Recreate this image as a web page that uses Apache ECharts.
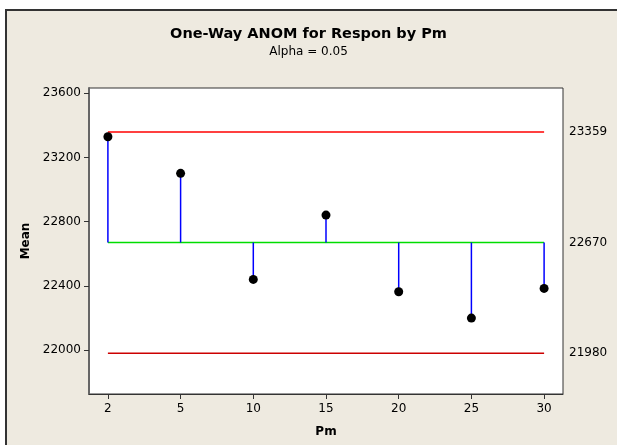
<!DOCTYPE html>
<html>
<head>
<meta charset="utf-8">
<script src="https://cdn.jsdelivr.net/npm/echarts@6/dist/echarts.min.js"></script>
<style>html,body{margin:0;padding:0;background:#fff}#c{width:617px;height:445px}</style>
</head>
<body>
<div id="c"></div>
<script>
var pmLabels = ['2', '5', '10', '15', '20', '25', '30'];
var means = [23329, 23101, 22440, 22841, 22363, 22199, 22384];
var centerLine = 22670;
var upperLimit = 23359;
var lowerLimit = 21980;
var leftTicks = [22000, 22400, 22800, 23200, 23600];
var rightTicks = [lowerLimit, centerLine, upperLimit];

var idx = pmLabels.map(function (_, i) { return i; });
var pts = means.map(function (m, i) { return [i, m]; });
var last = pmLabels.length - 1;
var FONT = 'DejaVu Sans';
function plain(v) { return String(Math.round(v)); }

var chart = echarts.init(document.getElementById('c'), null, {renderer: 'canvas'});
chart.setOption({
  backgroundColor: '#ffffff',
  animation: false,
  graphic: [{
    type: 'rect', z: -100, silent: true,
    shape: {x: 6, y: 10, width: 700, height: 500},
    style: {fill: '#EEEAE0', stroke: '#333333', lineWidth: 2}
  }],
  title: {
    text: 'One-Way ANOM for Respon by Pm',
    subtext: 'Alpha = 0.05',
    left: 'center', top: 22, itemGap: 4,
    textStyle: {fontFamily: FONT, fontSize: 14.5, fontWeight: 'bold', color: '#000'},
    subtextStyle: {fontFamily: FONT, fontSize: 12, color: '#000'}
  },
  grid: {left: 89, top: 88, right: 54, bottom: 51, show: true, backgroundColor: '#fff', borderColor: '#333', borderWidth: 1},
  xAxis: {
    type: 'value', min: -0.26, max: last + 0.26,
    name: 'Pm', nameLocation: 'middle', nameGap: 32,
    nameTextStyle: {fontFamily: FONT, fontSize: 12, fontWeight: 'bold', color: '#000'},
    axisLine: {show: true, onZero: false, lineStyle: {color: '#333'}},
    splitLine: {show: false},
    axisTick: {show: true, length: 5, lineStyle: {color: '#333'}, customValues: idx},
    axisLabel: {fontFamily: FONT, fontSize: 12, color: '#000', margin: 9, customValues: idx,
      formatter: function (v) { return pmLabels[Math.round(v)]; }}
  },
  yAxis: [{
    type: 'value', min: 21726, max: 23633, position: 'left',
    name: 'Mean', nameLocation: 'middle', nameGap: 36,
    nameTextStyle: {fontFamily: FONT, fontSize: 12, fontWeight: 'bold', color: '#000'},
    axisLine: {show: true, onZero: false, lineStyle: {color: '#666', width: 2}},
    splitLine: {show: false},
    axisTick: {show: true, length: 5, lineStyle: {color: '#333'}, customValues: leftTicks},
    axisLabel: {fontFamily: FONT, fontSize: 12, color: '#000', margin: 8, customValues: leftTicks, formatter: plain}
  }, {
    type: 'value', min: 21726, max: 23633, position: 'right',
    axisLine: {show: false, onZero: false}, splitLine: {show: false}, axisTick: {show: false},
    axisLabel: {fontFamily: FONT, fontSize: 12, color: '#000', margin: 6, customValues: rightTicks, formatter: plain}
  }],
  series: [
    {type: 'line', data: [[0, upperLimit], [last, upperLimit]], symbol: 'none', lineStyle: {color: '#FF0000', width: 1.5, opacity: 1}, z: 2},
    {type: 'line', data: [[0, lowerLimit], [last, lowerLimit]], symbol: 'none', lineStyle: {color: '#CC0000', width: 1.5, opacity: 1}, z: 2},
    {type: 'line', data: [[0, centerLine], [last, centerLine]], symbol: 'none', lineStyle: {color: '#00DD00', width: 1.5, opacity: 1}, z: 2},
    {
      type: 'custom', data: pts, z: 3,
      renderItem: function (params, api) {
        var x = api.value(0), m = api.value(1);
        var a = api.coord([x, centerLine]);
        var b = api.coord([x, m]);
        return {type: 'line', shape: {x1: a[0], y1: a[1], x2: b[0], y2: b[1]}, style: {stroke: '#0000FF', lineWidth: 1.5}};
      }
    },
    {type: 'scatter', data: pts, symbol: 'circle', symbolSize: 9, itemStyle: {color: '#000', opacity: 1}, z: 4}
  ]
});
</script>
</body>
</html>
